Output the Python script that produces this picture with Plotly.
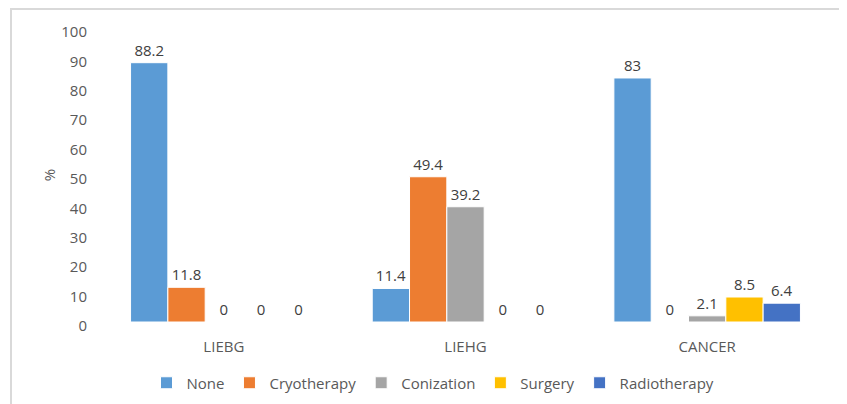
import plotly.graph_objects as go

categories = ["LIEBG", "LIEHG", "CANCER"]
series_names = ["None", "Cryotherapy", "Conization", "Surgery", "Radiotherapy"]
none_vals = [88.2, 11.4, 83]
cryo_vals = [11.8, 49.4, 0]
coniz_vals = [0, 39.2, 2.1]
surgery_vals = [0, 0, 8.5]
radio_vals = [0, 0, 6.4]
colors = ["#5B9BD5", "#ED7D31", "#A5A5A5", "#FFC000", "#4472C4"]
y_ticks = [0, 10, 20, 30, 40, 50, 60, 70, 80, 90, 100]

all_vals = [none_vals, cryo_vals, coniz_vals, surgery_vals, radio_vals]
FONT = "Open Sans, Liberation Sans, sans-serif"

fig = go.Figure()
for name, vals, col in zip(series_names, all_vals, colors):
    fig.add_trace(go.Bar(
        name=name, x=categories, y=vals,
        marker=dict(color=col, line=dict(color="white", width=1)),
        text=[f"{v:g}" for v in vals], textposition="outside",
        textfont=dict(size=15, color="#404040", family=FONT),
        cliponaxis=False,
    ))

# page body has an 8px margin, so the figure is drawn 8px right/down
OFF = 8
W, H = 847 - OFF, 404 - OFF
L, R, T, B = 103 - OFF, 847 - 828, 28 - OFF, 404 - 322
pw, ph = W - L - R, H - T - B

fig.update_layout(
    width=W, height=H,
    margin=dict(l=L, r=R, t=T, b=B, pad=0, autoexpand=False),
    paper_bgcolor="white", plot_bgcolor="white",
    barmode="group", bargap=0.228, bargroupgap=0,
    font=dict(family=FONT, size=15, color="#595959"),
    showlegend=True,
    legend=dict(orientation="h", x=(433 - OFF - L) / pw, xanchor="center",
                y=(H - B - (383 - OFF)) / ph, yanchor="middle",
                font=dict(size=15, color="#595959"),
                itemwidth=30, tracegroupgap=0),
    xaxis=dict(showline=False, showgrid=False, ticks="", automargin=False,
               ticklabelstandoff=14,
               tickfont=dict(size=15, color="#595959")),
    yaxis=dict(range=[0, 100], tickvals=y_ticks, showgrid=False, automargin=False,
               showline=False, zeroline=False, ticks="",
               ticklabelstandoff=15, ticklabelshift=4,
               tickfont=dict(size=15, color="#595959"),
               title=dict(text="%", font=dict(size=15, color="#595959"), standoff=2)),
    shapes=[
        dict(type="line", xref="paper", yref="paper",
             x0=(11 - OFF - L) / pw, x1=(11 - OFF - L) / pw,
             y0=(H - B - H) / ph, y1=(H - B - 0) / ph,
             line=dict(color="#D9D9D9", width=2)),
        dict(type="line", xref="paper", yref="paper",
             x0=(11 - OFF - L) / pw, x1=(W - L) / pw,
             y0=(H - B - 1) / ph, y1=(H - B - 1) / ph,
             line=dict(color="#D9D9D9", width=2)),
    ],
)

fig.write_html("out.html")
